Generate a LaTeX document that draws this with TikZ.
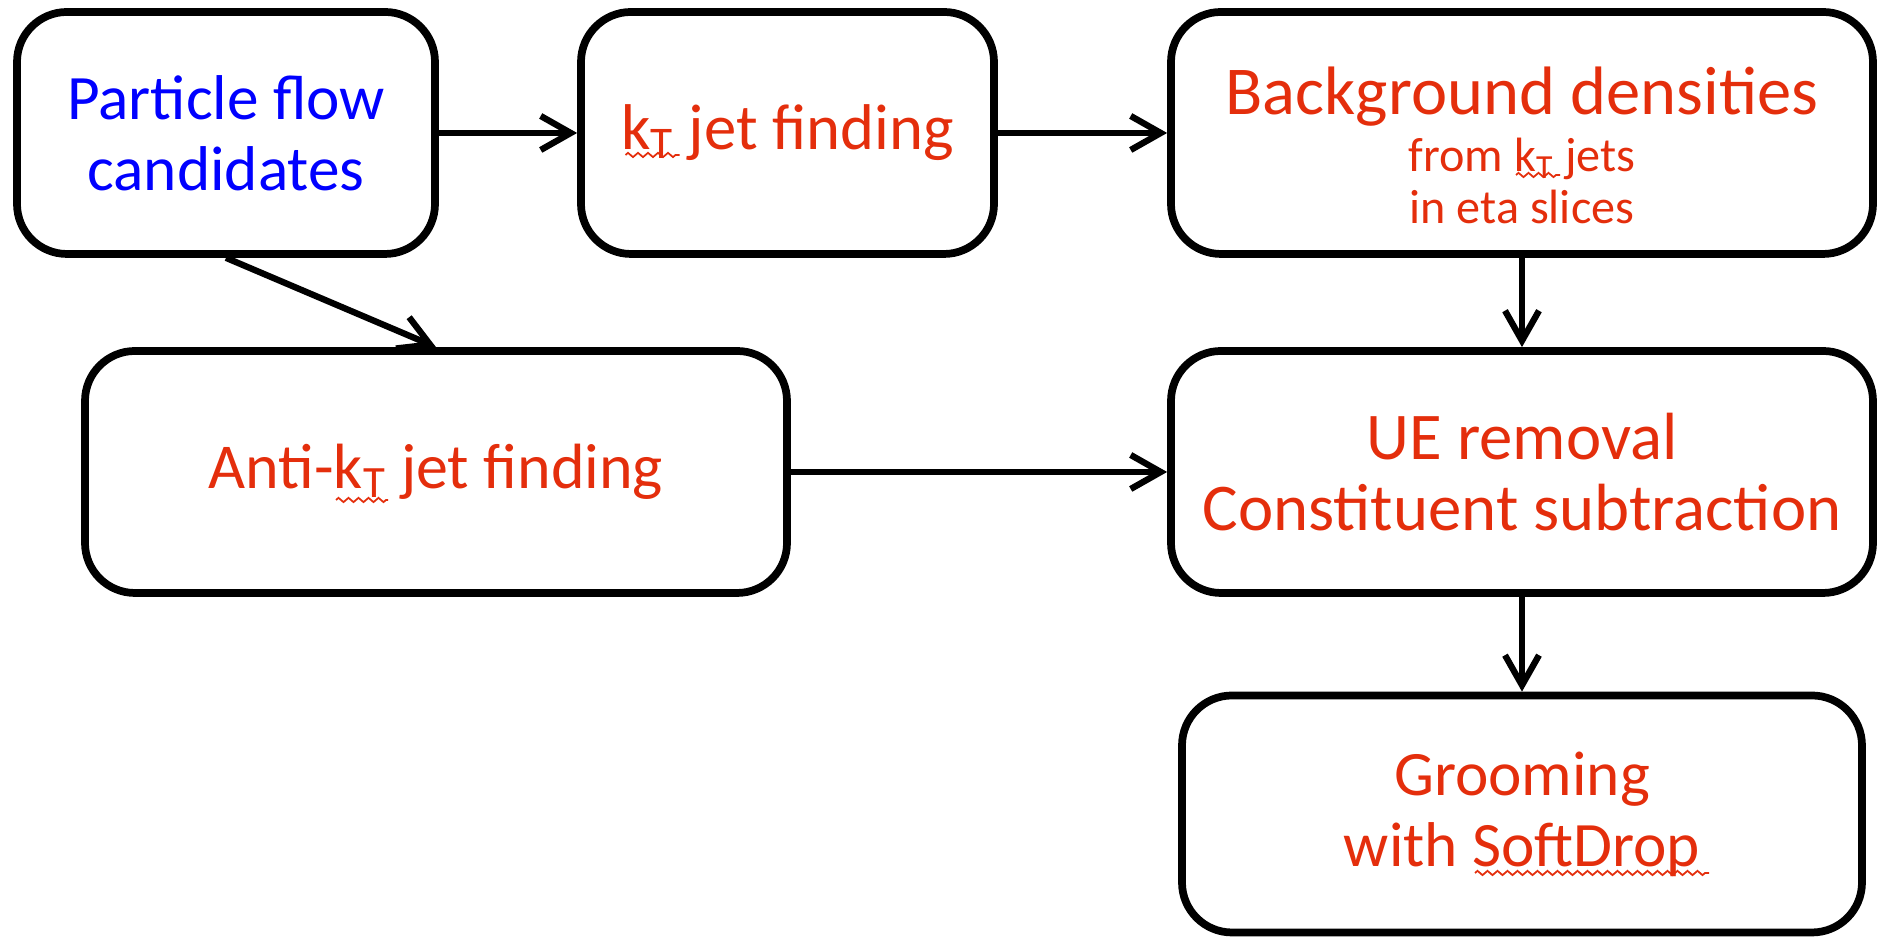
\documentclass[tikz,border=0pt]{standalone}
\usepackage{fontspec}
\setmainfont{Carlito}
\usepackage{tikz}
\usetikzlibrary{arrows.meta,positioning,decorations.pathmorphing}

\definecolor{pfblue}{RGB}{0,0,255}
\definecolor{jetred}{RGB}{228,46,12}
\newcommand{\kt}{k\textsubscript{T}}
\newcommand{\smallsize}{\fontsize{13.7}{14.8}\selectfont}

\begin{document}
\begin{tikzpicture}[
    blk/.style={draw, line width=2.2pt, rounded corners=0.5cm,
                minimum height=2.42cm, align=center, text=jetred},
    fs/.style={font=\fontsize{#1}{20.2}\selectfont},
    arrow/.style={-{Straight Barb[length=3mm,width=3.4mm]}, line width=1.8pt},
    squig/.style={jetred, line width=0.5pt, decorate,
                  decoration={zigzag, amplitude=0.6pt, segment length=1mm}},
  ]
  \useasboundingbox (0,0) rectangle (18.81,9.39);

  \node[blk, fs=18, minimum width=4.18cm, text=pfblue] (pf) at (2.26,8.06) {Particle flow\\candidates};
  \node[blk, fs=18.4, minimum width=4.13cm] (kt) at (7.875,8.06) {\kt{} jet finding};
  \node[blk, fs=19.5, minimum width=7.02cm] (bkg) at (15.22,8.06)
    {\rule{0pt}{20.5pt}Background densities\\[-4pt]\smallsize from \kt{} jets\\[-5.4pt]\smallsize in eta slices};
  \node[blk, fs=18.2, minimum width=7.02cm] (akt) at (4.36,4.67) {Anti-\kt{} jet finding};
  \node[blk, fs=19, minimum width=7.02cm] (ue) at (15.22,4.67) {UE removal\\Constituent subtraction};
  \node[blk, fs=18, minimum width=6.80cm, minimum height=2.37cm] (sd) at (15.22,1.25)
    {Grooming\\with SoftDrop};

  \draw[arrow] (pf) -- (kt);
  \draw[arrow] (kt) -- (bkg);
  \draw[arrow] (pf.south) -- (akt.north);
  \draw[arrow] (bkg) -- (ue);
  \draw[arrow] (akt) -- (ue);
  \draw[arrow] (ue) -- (sd);

  % spell-check marks
  \draw[squig] ([shift={(-1.62,-0.22)}]kt.center) -- ++(0.54,0);
  \draw[squig] ([shift={(-0.06,-0.42)}]bkg.center) -- ++(0.44,0);
  \draw[squig] ([shift={(-1.00,-0.28)}]akt.center) -- ++(0.52,0);
  \draw[squig] ([shift={(-0.47,-0.59)}]sd.center) -- ++(2.34,0);
\end{tikzpicture}
\end{document}
